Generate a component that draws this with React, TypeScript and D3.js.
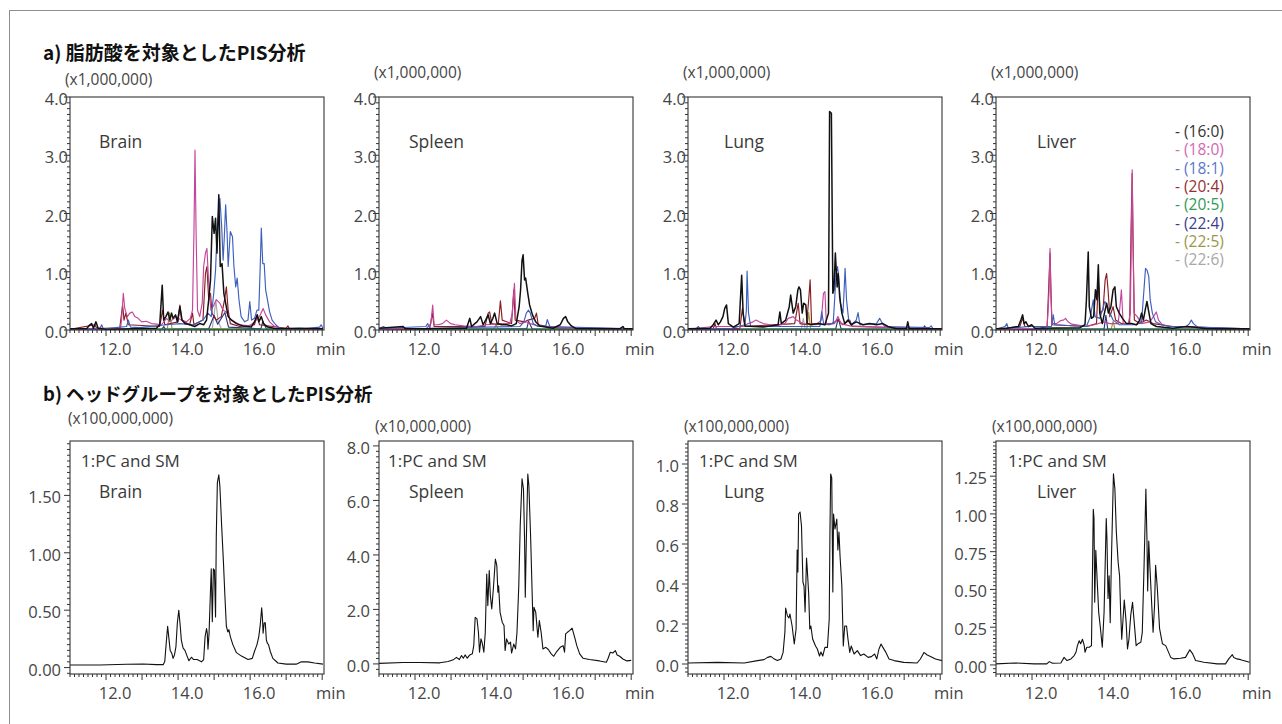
import React from 'react';
import * as d3 from 'd3';

type Pt = [number, number];

const FONT = "'Open Sans', 'Noto Sans', sans-serif";
const JP = "'Noto Sans CJK JP', 'Noto Sans', sans-serif";

// shared retention-time axis (min)
const X_DOMAIN: [number, number] = [10.75, 17.8];
const xLabels = [12, 14, 16];
const PANEL_W = 254;
const panelLefts = [70, 379, 688, 996];
const tissues = ['Brain', 'Spleen', 'Lung', 'Liver'];
const tissueX = [99, 409, 724, 1037];

// --- a) fatty acid PIS, 8 channels ---
const faNames = ['16:0', '18:0', '18:1', '20:4', '20:5', '22:4', '22:5', '22:6'];
const faLine = ['#111111', '#c4469b', '#3d5fbf', '#8a1c22', '#24a058', '#2e3683', '#9c9a3a', '#a9a9a9'];
const faText = ['#333333', '#d468b4', '#5a78c8', '#973030', '#2e9a58', '#3a3f8c', '#9a9848', '#a8a8a8'];
const faYTicks = [0, 1, 2, 3, 4];

const brain160: Pt[] = [[10.75,0.02],[11.21,0.02],[11.30,0.09],[11.35,0.11],[11.40,0.03],[11.47,0.14],[11.53,0.03],[11.77,0.01],[12.50,0.02],[13.15,0.03],[13.24,0.09],[13.31,0.77],[13.35,0.17],[13.41,0.23],[13.47,0.31],[13.52,0.17],[13.57,0.29],[13.61,0.20],[13.68,0.26],[13.73,0.14],[13.80,0.40],[13.86,0.17],[13.94,0.11],[14.07,0.09],[14.21,0.06],[14.35,0.11],[14.46,0.09],[14.54,0.17],[14.60,0.52],[14.65,0.86],[14.70,1.95],[14.75,1.66],[14.79,1.92],[14.83,1.32],[14.88,2.32],[14.92,1.09],[14.97,1.14],[15.02,0.63],[15.07,0.46],[15.14,0.23],[15.23,0.17],[15.37,0.11],[15.55,0.07],[15.78,0.05],[15.87,0.14],[15.95,0.26],[15.99,0.14],[16.06,0.23],[16.12,0.11],[16.24,0.05],[16.47,0.02],[17.12,0.03],[17.77,0.02]];
const brain180: Pt[] = [[10.75,0.01],[12.15,0.02],[12.18,0.17],[12.23,0.63],[12.27,0.37],[12.34,0.23],[12.41,0.29],[12.48,0.31],[12.55,0.23],[12.64,0.20],[12.74,0.14],[12.87,0.15],[13.01,0.11],[13.15,0.10],[13.29,0.09],[13.43,0.20],[13.52,0.14],[13.70,0.23],[13.84,0.17],[13.98,0.14],[14.09,0.20],[14.15,0.34],[14.19,1.66],[14.22,3.09],[14.25,1.66],[14.29,0.34],[14.35,0.23],[14.42,0.46],[14.46,1.09],[14.51,1.32],[14.55,1.40],[14.60,0.80],[14.66,0.34],[14.72,0.40],[14.81,0.52],[14.91,0.46],[15.00,0.34],[15.09,0.31],[15.18,0.20],[15.32,0.14],[15.46,0.09],[15.74,0.07],[15.92,0.17],[16.01,0.23],[16.11,0.37],[16.18,0.26],[16.29,0.14],[16.43,0.06],[16.66,0.02],[17.77,0.02]];
const brain181: Pt[] = [[10.75,0.01],[11.58,0.03],[11.63,0.09],[11.67,0.02],[12.32,0.06],[12.37,0.17],[12.43,0.05],[12.68,0.04],[13.43,0.09],[13.80,0.11],[14.17,0.09],[14.44,0.17],[14.58,0.29],[14.67,0.23],[14.74,0.63],[14.79,1.03],[14.83,1.66],[14.87,2.00],[14.91,2.26],[14.96,1.77],[15.00,1.20],[15.03,1.55],[15.07,2.15],[15.11,1.66],[15.14,1.09],[15.20,1.69],[15.26,1.60],[15.30,1.09],[15.35,0.74],[15.39,0.89],[15.44,0.52],[15.50,0.23],[15.60,0.14],[15.69,0.17],[15.74,0.49],[15.79,0.17],[15.87,0.20],[15.94,0.34],[15.99,0.34],[16.03,1.09],[16.06,1.75],[16.10,1.14],[16.14,1.14],[16.18,0.69],[16.23,0.52],[16.29,0.31],[16.36,0.17],[16.46,0.09],[16.57,0.03],[17.12,0.01],[17.68,0.05],[17.72,0.09],[17.77,0.03]];
const brain204: Pt[] = [[10.75,0.01],[11.44,0.09],[11.49,0.03],[12.13,0.03],[12.21,0.43],[12.25,0.17],[12.30,0.29],[12.37,0.09],[13.24,0.06],[13.32,0.34],[13.38,0.09],[13.75,0.14],[13.80,0.43],[13.85,0.17],[14.07,0.09],[14.15,0.29],[14.19,0.09],[14.44,0.17],[14.51,0.97],[14.55,1.09],[14.60,0.52],[14.65,0.63],[14.69,0.29],[14.81,0.17],[14.95,0.23],[15.04,0.52],[15.09,0.74],[15.14,0.34],[15.20,0.11],[15.46,0.06],[15.87,0.09],[15.94,0.26],[16.01,0.09],[16.75,0.03],[16.80,0.07],[16.84,0.02],[17.77,0.02]];
const brain205: Pt[] = [[12.2,0.01],[16.8,0.01]];
const brain224: Pt[] = [[10.75,0.01],[13.30,0.01],[13.35,0.06],[13.40,0.01],[14.60,0.02],[14.75,0.25],[14.85,0.10],[15.05,0.30],[15.15,0.05],[16.05,0.02],[16.10,0.15],[16.20,0.02],[17.77,0.01]];
const brain225: Pt[] = [[10.75,0.01],[13.45,0.02],[13.52,0.30],[13.58,0.03],[17.77,0.01]];
const brain226: Pt[] = [[10.75,0.01],[14.70,0.03],[14.80,0.50],[14.86,0.15],[14.95,0.02],[17.77,0.01]];

const spleen160: Pt[] = [[10.75,0.03],[11.42,0.06],[11.48,0.02],[12.16,0.02],[13.18,0.03],[13.27,0.20],[13.32,0.06],[13.41,0.11],[13.47,0.14],[13.57,0.23],[13.64,0.09],[13.71,0.17],[13.78,0.26],[13.84,0.11],[13.91,0.20],[13.96,0.29],[14.03,0.11],[14.15,0.09],[14.29,0.09],[14.43,0.07],[14.56,0.11],[14.64,0.40],[14.68,0.69],[14.72,1.20],[14.75,1.29],[14.79,0.86],[14.82,0.89],[14.88,0.63],[14.93,0.43],[15.01,0.26],[15.10,0.14],[15.21,0.07],[15.58,0.03],[15.78,0.09],[15.87,0.20],[15.93,0.23],[15.99,0.14],[16.09,0.07],[16.23,0.02],[17.43,0.02],[17.52,0.06],[17.56,0.02],[17.80,0.02]];
const spleen180: Pt[] = [[10.75,0.01],[12.07,0.03],[12.19,0.11],[12.24,0.43],[12.28,0.09],[12.39,0.09],[12.51,0.11],[12.62,0.17],[12.74,0.11],[12.86,0.09],[13.09,0.07],[13.46,0.06],[13.73,0.09],[14.10,0.11],[14.38,0.11],[14.45,0.29],[14.51,0.80],[14.55,0.17],[14.66,0.11],[14.84,0.14],[14.95,0.11],[15.21,0.06],[15.95,0.04],[16.50,0.02],[17.80,0.02]];
const spleen181: Pt[] = [[10.75,0.02],[10.87,0.06],[10.96,0.03],[12.05,0.06],[12.10,0.11],[12.16,0.03],[14.66,0.06],[14.77,0.14],[14.84,0.29],[14.90,0.34],[14.95,0.29],[15.03,0.11],[15.16,0.06],[15.38,0.07],[15.42,0.18],[15.49,0.06],[17.80,0.02]];
const spleen204: Pt[] = [[10.75,0.01],[12.16,0.03],[12.23,0.29],[12.28,0.06],[13.69,0.06],[13.78,0.29],[13.82,0.31],[13.88,0.11],[14.06,0.09],[14.12,0.50],[14.17,0.17],[14.43,0.11],[14.49,0.69],[14.53,0.17],[14.79,0.14],[14.89,0.17],[15.07,0.20],[15.12,0.29],[15.17,0.09],[15.58,0.04],[17.80,0.02]];
const spleen205: Pt[] = [[12.2,0.01],[16.8,0.01]];
const spleen224: Pt[] = [[10.75,0.01],[14.85,0.02],[14.90,0.15],[15.00,0.02],[17.80,0.01]];
const spleen225: Pt[] = [[10.75,0.01],[13.95,0.02],[14.00,0.10],[14.05,0.02],[17.80,0.01]];
const spleen226: Pt[] = [[10.75,0.01],[17.80,0.01]];

const lung160: Pt[] = [[10.75,0.02],[11.36,0.03],[11.45,0.09],[11.53,0.17],[11.59,0.09],[11.65,0.14],[11.72,0.23],[11.77,0.37],[11.82,0.43],[11.87,0.11],[12.01,0.05],[12.17,0.11],[12.24,0.94],[12.28,0.29],[12.33,0.07],[12.84,0.05],[13.25,0.09],[13.30,0.31],[13.34,0.11],[13.46,0.17],[13.56,0.40],[13.60,0.60],[13.67,0.29],[13.74,0.40],[13.80,0.69],[13.83,0.74],[13.87,0.69],[13.92,0.29],[13.96,0.46],[14.02,0.43],[14.06,0.11],[14.18,0.09],[14.36,0.11],[14.55,0.09],[14.65,0.29],[14.68,3.75],[14.73,3.72],[14.77,0.63],[14.80,0.69],[14.84,1.32],[14.89,0.74],[14.92,0.97],[14.96,0.57],[15.02,0.29],[15.10,0.11],[15.19,0.17],[15.28,0.09],[15.42,0.14],[15.61,0.09],[15.79,0.11],[15.98,0.09],[16.16,0.11],[16.30,0.06],[16.53,0.02],[16.81,0.02],[16.85,0.14],[16.89,0.02],[17.80,0.02]];
const lung180: Pt[] = [[10.75,0.01],[11.45,0.06],[12.28,0.06],[12.42,0.11],[12.56,0.14],[12.63,0.17],[12.73,0.14],[12.84,0.11],[13.02,0.09],[13.21,0.07],[13.44,0.11],[13.53,0.20],[13.67,0.23],[13.76,0.17],[13.94,0.11],[14.31,0.09],[14.45,0.17],[14.51,0.63],[14.55,0.66],[14.59,0.11],[14.82,0.11],[14.91,0.23],[15.00,0.11],[15.24,0.07],[16.07,0.05],[17.27,0.02],[17.80,0.02]];
const lung181: Pt[] = [[10.75,0.01],[10.99,0.03],[11.04,0.06],[11.08,0.02],[11.91,0.02],[12.33,0.09],[12.37,0.34],[12.39,1.01],[12.43,0.29],[12.49,0.06],[14.41,0.06],[14.46,0.31],[14.52,0.09],[14.78,0.11],[14.82,0.52],[14.86,0.97],[14.90,1.09],[14.93,0.92],[14.98,0.46],[15.05,0.29],[15.08,0.63],[15.11,1.06],[15.15,0.52],[15.21,0.17],[15.28,0.09],[15.42,0.17],[15.47,0.30],[15.52,0.09],[15.98,0.11],[16.07,0.20],[16.12,0.14],[16.21,0.06],[17.45,0.04],[17.50,0.07],[17.55,0.02],[17.80,0.02]];
const lung204: Pt[] = [[10.75,0.01],[11.45,0.03],[11.50,0.11],[11.54,0.02],[12.19,0.03],[12.26,0.37],[12.33,0.06],[13.71,0.11],[13.81,0.46],[13.86,0.11],[14.04,0.09],[14.10,0.52],[14.14,0.86],[14.18,0.11],[14.68,0.09],[14.91,0.17],[15.05,0.09],[15.24,0.17],[15.31,0.06],[17.27,0.03],[17.32,0.07],[17.36,0.02],[17.80,0.02]];
const lung205: Pt[] = [[12.2,0.01],[16.8,0.01]];
const lung224: Pt[] = [[10.75,0.01],[14.85,0.02],[14.92,0.20],[15.00,0.02],[17.80,0.01]];
const lung225: Pt[] = [[10.75,0.01],[14.05,0.02],[14.10,0.30],[14.15,0.02],[17.80,0.01]];
const lung226: Pt[] = [[10.75,0.01],[13.90,0.02],[13.95,0.20],[14.00,0.02],[17.80,0.01]];

const liver160: Pt[] = [[10.75,0.02],[11.05,0.03],[11.37,0.06],[11.44,0.17],[11.49,0.26],[11.53,0.11],[11.58,0.14],[11.65,0.06],[11.74,0.09],[11.83,0.03],[13.08,0.04],[13.22,0.09],[13.26,0.52],[13.31,1.34],[13.34,0.40],[13.40,0.20],[13.46,0.23],[13.51,0.69],[13.55,0.52],[13.59,1.12],[13.63,0.29],[13.70,0.11],[13.76,0.29],[13.82,0.46],[13.87,0.29],[13.94,0.40],[14.00,0.69],[14.05,0.74],[14.09,0.40],[14.17,0.29],[14.26,0.20],[14.37,0.11],[14.51,0.11],[14.65,0.09],[14.74,0.17],[14.79,0.29],[14.84,0.17],[14.90,0.37],[14.94,0.49],[14.99,0.31],[15.05,0.11],[15.20,0.06],[15.66,0.03],[16.03,0.06],[16.22,0.05],[16.59,0.02],[17.79,0.02]];
const liver180: Pt[] = [[10.75,0.01],[11.97,0.03],[12.17,0.06],[12.22,0.63],[12.25,1.40],[12.27,0.63],[12.31,0.11],[12.43,0.11],[12.54,0.16],[12.62,0.17],[12.68,0.20],[12.75,0.14],[12.85,0.10],[12.98,0.09],[13.26,0.06],[13.54,0.10],[13.72,0.14],[13.91,0.11],[14.14,0.11],[14.19,0.40],[14.23,0.69],[14.28,0.11],[14.42,0.11],[14.48,0.29],[14.51,1.77],[14.53,2.75],[14.55,1.77],[14.58,0.29],[14.67,0.23],[14.79,0.11],[15.02,0.14],[15.15,0.26],[15.20,0.31],[15.26,0.17],[15.37,0.09],[15.57,0.06],[16.40,0.05],[17.05,0.03],[17.79,0.02]];
const liver181: Pt[] = [[10.75,0.01],[11.00,0.06],[11.05,0.11],[11.09,0.03],[11.69,0.06],[12.29,0.06],[12.34,0.26],[12.38,0.09],[13.26,0.06],[13.37,0.23],[13.45,0.52],[13.50,0.23],[13.63,0.20],[13.72,0.37],[13.77,0.49],[13.83,0.43],[13.91,0.29],[14.00,0.17],[14.18,0.09],[14.65,0.09],[14.79,0.14],[14.85,0.63],[14.90,1.06],[14.94,1.03],[14.99,0.92],[15.03,0.52],[15.09,0.29],[15.18,0.14],[15.34,0.09],[15.57,0.06],[16.03,0.06],[16.12,0.11],[16.17,0.17],[16.23,0.11],[16.35,0.05],[17.79,0.02]];
const liver204: Pt[] = [[10.75,0.01],[11.41,0.06],[11.49,0.20],[11.55,0.06],[12.17,0.06],[12.25,1.32],[12.30,0.09],[13.26,0.06],[13.54,0.11],[13.59,0.86],[13.64,0.29],[13.72,0.34],[13.78,0.86],[13.82,0.97],[13.86,0.69],[13.91,0.23],[14.00,0.40],[14.07,0.17],[14.23,0.11],[14.46,0.11],[14.50,1.77],[14.53,2.69],[14.55,1.66],[14.59,0.17],[14.74,0.11],[14.92,0.17],[15.11,0.11],[15.66,0.06],[17.79,0.02]];
const liver205: Pt[] = [[12.2,0.01],[16.8,0.01]];
const liver224: Pt[] = [[10.75,0.01],[13.75,0.02],[13.80,0.25],[13.85,0.02],[17.79,0.01]];
const liver225: Pt[] = [[10.75,0.01],[13.95,0.02],[14.00,0.15],[14.05,0.02],[17.79,0.01]];
const liver226: Pt[] = [[10.75,0.01],[17.79,0.01]];

// --- b) head group PIS (1:PC and SM) ---
const brainPC: Pt[] = [[10.75,0.023],[11.58,0.023],[12.32,0.029],[12.78,0.031],[13.15,0.026],[13.34,0.026],[13.38,0.052],[13.42,0.21],[13.46,0.36],[13.49,0.27],[13.53,0.15],[13.58,0.12],[13.61,0.08],[13.65,0.11],[13.69,0.18],[13.73,0.39],[13.77,0.50],[13.81,0.36],[13.84,0.24],[13.89,0.17],[13.94,0.15],[14.00,0.10],[14.05,0.06],[14.12,0.09],[14.18,0.07],[14.28,0.07],[14.40,0.05],[14.46,0.07],[14.50,0.27],[14.54,0.34],[14.56,0.30],[14.58,0.16],[14.61,0.30],[14.65,0.68],[14.67,0.86],[14.70,0.40],[14.73,0.86],[14.76,0.85],[14.79,0.44],[14.81,1.14],[14.84,1.61],[14.88,1.68],[14.91,1.58],[14.96,1.23],[15.01,0.91],[15.05,0.62],[15.09,0.36],[15.13,0.31],[15.16,0.33],[15.20,0.27],[15.27,0.20],[15.37,0.13],[15.51,0.10],[15.69,0.07],[15.81,0.08],[15.87,0.14],[15.94,0.20],[15.99,0.27],[16.03,0.37],[16.07,0.52],[16.09,0.44],[16.11,0.30],[16.14,0.39],[16.17,0.39],[16.20,0.24],[16.23,0.21],[16.26,0.20],[16.31,0.14],[16.38,0.08],[16.52,0.04],[16.75,0.03],[17.03,0.03],[17.17,0.05],[17.35,0.05],[17.54,0.04],[17.77,0.03]];
const spleenPC: Pt[] = [[10.75,0.02],[11.42,0.05],[11.89,0.05],[12.44,0.04],[12.67,0.09],[12.81,0.15],[12.90,0.24],[12.98,0.16],[13.04,0.31],[13.09,0.21],[13.14,0.33],[13.20,0.21],[13.27,0.33],[13.34,0.37],[13.38,0.67],[13.42,1.71],[13.47,1.65],[13.51,1.16],[13.54,0.43],[13.58,0.92],[13.61,0.80],[13.66,0.43],[13.70,1.16],[13.74,3.30],[13.77,2.14],[13.81,3.43],[13.84,2.51],[13.88,2.02],[13.93,2.87],[13.98,3.85],[14.02,3.61],[14.05,2.63],[14.07,2.87],[14.11,1.90],[14.17,1.53],[14.22,1.41],[14.25,0.49],[14.29,0.92],[14.35,0.73],[14.40,0.80],[14.43,0.40],[14.49,0.73],[14.54,0.55],[14.58,1.16],[14.63,2.87],[14.67,5.08],[14.72,6.79],[14.76,6.42],[14.79,4.59],[14.81,2.45],[14.84,4.59],[14.88,6.97],[14.91,6.54],[14.96,4.59],[15.01,2.14],[15.03,1.22],[15.05,2.08],[15.10,1.90],[15.14,1.28],[15.16,0.98],[15.20,1.59],[15.25,1.16],[15.30,0.55],[15.38,0.61],[15.45,0.53],[15.53,0.37],[15.60,0.28],[15.67,0.43],[15.78,0.61],[15.86,0.67],[15.90,0.43],[15.93,1.10],[15.98,1.16],[16.04,1.22],[16.11,1.31],[16.18,0.98],[16.24,0.67],[16.32,0.37],[16.41,0.21],[16.59,0.16],[16.87,0.11],[17.06,0.06],[17.11,0.21],[17.17,0.43],[17.24,0.40],[17.31,0.49],[17.36,0.33],[17.43,0.28],[17.52,0.18],[17.63,0.11],[17.75,0.13]];
const lungPC: Pt[] = [[10.75,0.005],[11.57,0.008],[12.31,0.005],[12.68,0.017],[12.86,0.022],[12.96,0.033],[13.05,0.038],[13.12,0.028],[13.23,0.017],[13.33,0.025],[13.39,0.058],[13.44,0.16],[13.46,0.28],[13.51,0.24],[13.55,0.23],[13.58,0.25],[13.64,0.19],[13.70,0.10],[13.75,0.175],[13.78,0.57],[13.80,0.46],[13.82,0.75],[13.86,0.76],[13.90,0.69],[13.94,0.41],[13.97,0.39],[14.00,0.26],[14.04,0.53],[14.06,0.475],[14.10,0.35],[14.13,0.175],[14.16,0.19],[14.21,0.125],[14.29,0.09],[14.34,0.075],[14.40,0.04],[14.44,0.06],[14.49,0.04],[14.55,0.083],[14.62,0.083],[14.67,0.225],[14.69,0.66],[14.71,0.95],[14.74,0.93],[14.77,0.36],[14.79,0.75],[14.83,0.675],[14.88,0.725],[14.91,0.57],[14.94,0.66],[14.97,0.54],[15.02,0.39],[15.06,0.09],[15.10,0.19],[15.15,0.19],[15.19,0.125],[15.24,0.058],[15.28,0.09],[15.36,0.05],[15.45,0.067],[15.54,0.042],[15.63,0.05],[15.75,0.033],[15.84,0.037],[15.93,0.05],[15.99,0.025],[16.05,0.075],[16.11,0.10],[16.16,0.083],[16.23,0.062],[16.33,0.025],[16.47,0.017],[16.74,0.008],[17.11,0.005],[17.20,0.025],[17.30,0.058],[17.39,0.045],[17.48,0.038],[17.62,0.025],[17.80,0.017]];
const liverPC: Pt[] = [[10.75,0.007],[11.26,0.013],[11.81,0.007],[12.16,0.007],[12.23,0.022],[12.32,0.011],[12.55,0.013],[12.64,0.05],[12.72,0.029],[12.83,0.04],[12.92,0.062],[12.97,0.084],[13.01,0.128],[13.06,0.16],[13.10,0.14],[13.15,0.17],[13.20,0.128],[13.22,0.084],[13.27,0.117],[13.34,0.117],[13.40,0.128],[13.43,0.66],[13.45,1.03],[13.47,0.97],[13.49,0.415],[13.52,0.76],[13.56,0.55],[13.60,0.35],[13.65,0.24],[13.70,0.117],[13.75,0.35],[13.81,0.97],[13.83,0.83],[13.86,0.44],[13.89,0.59],[13.92,0.28],[13.95,0.66],[14.01,1.265],[14.05,1.165],[14.09,0.88],[14.14,0.68],[14.18,0.59],[14.21,0.35],[14.24,0.17],[14.31,0.43],[14.36,0.29],[14.40,0.106],[14.44,0.17],[14.49,0.33],[14.54,0.415],[14.58,0.30],[14.64,0.128],[14.69,0.14],[14.77,0.15],[14.81,0.216],[14.86,0.66],[14.91,1.165],[14.94,0.83],[14.96,0.49],[14.99,0.82],[15.02,0.66],[15.06,0.46],[15.11,0.216],[15.15,0.39],[15.18,0.66],[15.23,0.50],[15.29,0.24],[15.37,0.14],[15.46,0.128],[15.52,0.095],[15.60,0.05],[15.69,0.04],[15.87,0.044],[16.01,0.05],[16.08,0.08],[16.13,0.10],[16.21,0.073],[16.29,0.029],[16.52,0.018],[16.89,0.007],[17.12,0.007],[17.21,0.04],[17.31,0.068],[17.35,0.05],[17.44,0.04],[17.54,0.035],[17.79,0.018]];

const pcUnits = ['(x100,000,000)', '(x10,000,000)', '(x100,000,000)', '(x100,000,000)'];
const pcYDomains: [number, number][] = [[-0.056, 1.974], [-0.37, 8.18], [-0.05, 1.115], [-0.06, 1.483]];
const pcYTicks = [[0, 0.5, 1.0, 1.5], [0, 2, 4, 6, 8], [0, 0.2, 0.4, 0.6, 0.8, 1.0], [0, 0.25, 0.5, 0.75, 1.0, 1.25]];
const pcYMinor = [0.05, 0.2, 0.02, 0.025];
const pcYFormat = ['.2f', '.1f', '.1f', '.2f'];

interface Trace { data: Pt[]; color: string; width: number }
interface PanelProps {
  id: string;
  left: number; top: number; bottom: number;
  yDomain: [number, number]; yTicks: number[]; yMinor: number; yFmt: string; yLabelGap: number;
  unit: string; unitX: number; unitY: number;
  traces: Trace[];
  children?: React.ReactNode;
}

const Panel = ({ id, left, top, bottom, yDomain, yTicks, yMinor, yFmt, yLabelGap, unit, unitX, unitY, traces, children }: PanelProps) => {
  const right = left + PANEL_W;
  const x = d3.scaleLinear().domain(X_DOMAIN).range([left, right]);
  const y = d3.scaleLinear().domain(yDomain).range([bottom, top]);
  const line = d3.line<Pt>().x(d => x(d[0])).y(d => y(d[1]));
  const fmt = d3.format(yFmt);
  const xt = d3.range(0, 57).map(i => X_DOMAIN[0] + i * 0.125);
  const ym = d3.range(Math.ceil(yDomain[0] / yMinor - 1e-6), Math.floor(yDomain[1] / yMinor + 1e-6) + 1).map(i => i * yMinor);
  return (
    <g>
      <clipPath id={id}><rect x={left} y={top} width={PANEL_W} height={bottom - top} /></clipPath>
      <g clipPath={`url(#${id})`}>
        {traces.map((t, i) => (
          <path key={i} d={line(t.data) || ''} fill="none" stroke={t.color} strokeWidth={t.width} strokeLinejoin="round" />
        ))}
      </g>
      <rect x={left} y={top} width={PANEL_W} height={bottom - top} fill="none" stroke="#333" strokeWidth={1.1} />
      {xt.map((v, i) => {
        const major = i > 0 && i % 8 === 0;
        return <line key={i} x1={x(v)} x2={x(v)} y1={bottom} y2={bottom + (major ? 6 : 3)} stroke="#333" strokeWidth={1} />;
      })}
      {ym.map((v, i) => {
        const major = yTicks.some(t => Math.abs(t - v) < 1e-6);
        return <line key={i} x1={left - (major ? 6 : 3)} x2={left} y1={y(v)} y2={y(v)} stroke="#333" strokeWidth={1} />;
      })}
      {xLabels.map(v => (
        <text key={v} x={x(v)} y={bottom + 25} textAnchor="middle" fontSize={16.5} fill="#454545" fontFamily={FONT}>{v.toFixed(1)}</text>
      ))}
      <text x={right - 8} y={bottom + 25} fontSize={16.5} fill="#454545" fontFamily={FONT}>min</text>
      {yTicks.map(v => (
        <text key={v} x={left - yLabelGap} y={y(v) + 8} textAnchor="end" fontSize={16.5} fill="#454545" fontFamily={FONT}>{fmt(v)}</text>
      ))}
      <text x={unitX} y={unitY} fontSize={15.5} fill="#454545" fontFamily={FONT}>{unit}</text>
      {children}
    </g>
  );
};

const faData: Pt[][][] = [
  [brain160, brain180, brain181, brain204, brain205, brain224, brain225, brain226],
  [spleen160, spleen180, spleen181, spleen204, spleen205, spleen224, spleen225, spleen226],
  [lung160, lung180, lung181, lung204, lung205, lung224, lung225, lung226],
  [liver160, liver180, liver181, liver204, liver205, liver224, liver225, liver226],
];
const pcData = [brainPC, spleenPC, lungPC, liverPC];
// back-to-front drawing order of the fatty-acid channels
const drawOrder = [7, 6, 5, 4, 3, 1, 2, 0];
const unitYA = [85, 78, 78, 78];
const unitYB = [424, 432, 432, 432];
const pcLabelDx = [11, 9, 11, 12];

export default function App() {
  return (
    <svg width={1282} height={724} style={{ position: 'absolute', left: 0, top: 0, background: '#fff' }}>
      <rect x={0} y={0} width={1282} height={724} fill="#fff" />
      <rect x={9.5} y={10.5} width={1400} height={900} fill="none" stroke="#8e8e8e" strokeWidth={1} />
      <text x={43} y={60} fontSize={19} fontWeight="bold" fill="#111" fontFamily={JP}>a) 脂肪酸を対象としたPIS分析</text>
      <text x={43} y={401} fontSize={18.5} fontWeight="bold" fill="#111" fontFamily={JP}>b) ヘッドグループを対象としたPIS分析</text>

      {panelLefts.map((left, p) => (
        <Panel key={'a' + p} id={'clipA' + p} left={left} top={97} bottom={330}
          yDomain={[0, 4]} yTicks={faYTicks} yMinor={0.1} yFmt=".1f" yLabelGap={2}
          unit="(x1,000,000)" unitX={left - 5} unitY={unitYA[p]}
          traces={drawOrder.map(k => ({ data: faData[p][k], color: faLine[k], width: k === 0 ? 1.5 : 1.15 }))}>
          <text x={tissueX[p]} y={148} fontSize={17.5} fill="#3a3a3a" fontFamily={FONT}>{tissues[p]}</text>
        </Panel>
      ))}

      {faNames.map((n, i) => (
        <text key={n} x={1175} y={137 + i * 18.3} fontSize={15.5} fill={faText[i]} fontFamily={FONT}>- ({n})</text>
      ))}

      {panelLefts.map((left, p) => (
        <Panel key={'b' + p} id={'clipB' + p} left={left} top={441} bottom={674}
          yDomain={pcYDomains[p]} yTicks={pcYTicks[p]} yMinor={pcYMinor[p]} yFmt={pcYFormat[p]} yLabelGap={9}
          unit={pcUnits[p]} unitX={left - (p === 0 ? 2 : 4)} unitY={unitYB[p]}
          traces={[{ data: pcData[p], color: '#111', width: 1.1 }]}>
          <text x={left + pcLabelDx[p]} y={467} fontSize={17} fill="#3a3a3a" fontFamily={FONT}>1:PC and SM</text>
          <text x={tissueX[p]} y={498} fontSize={17.5} fill="#3a3a3a" fontFamily={FONT}>{tissues[p]}</text>
        </Panel>
      ))}
    </svg>
  );
}
